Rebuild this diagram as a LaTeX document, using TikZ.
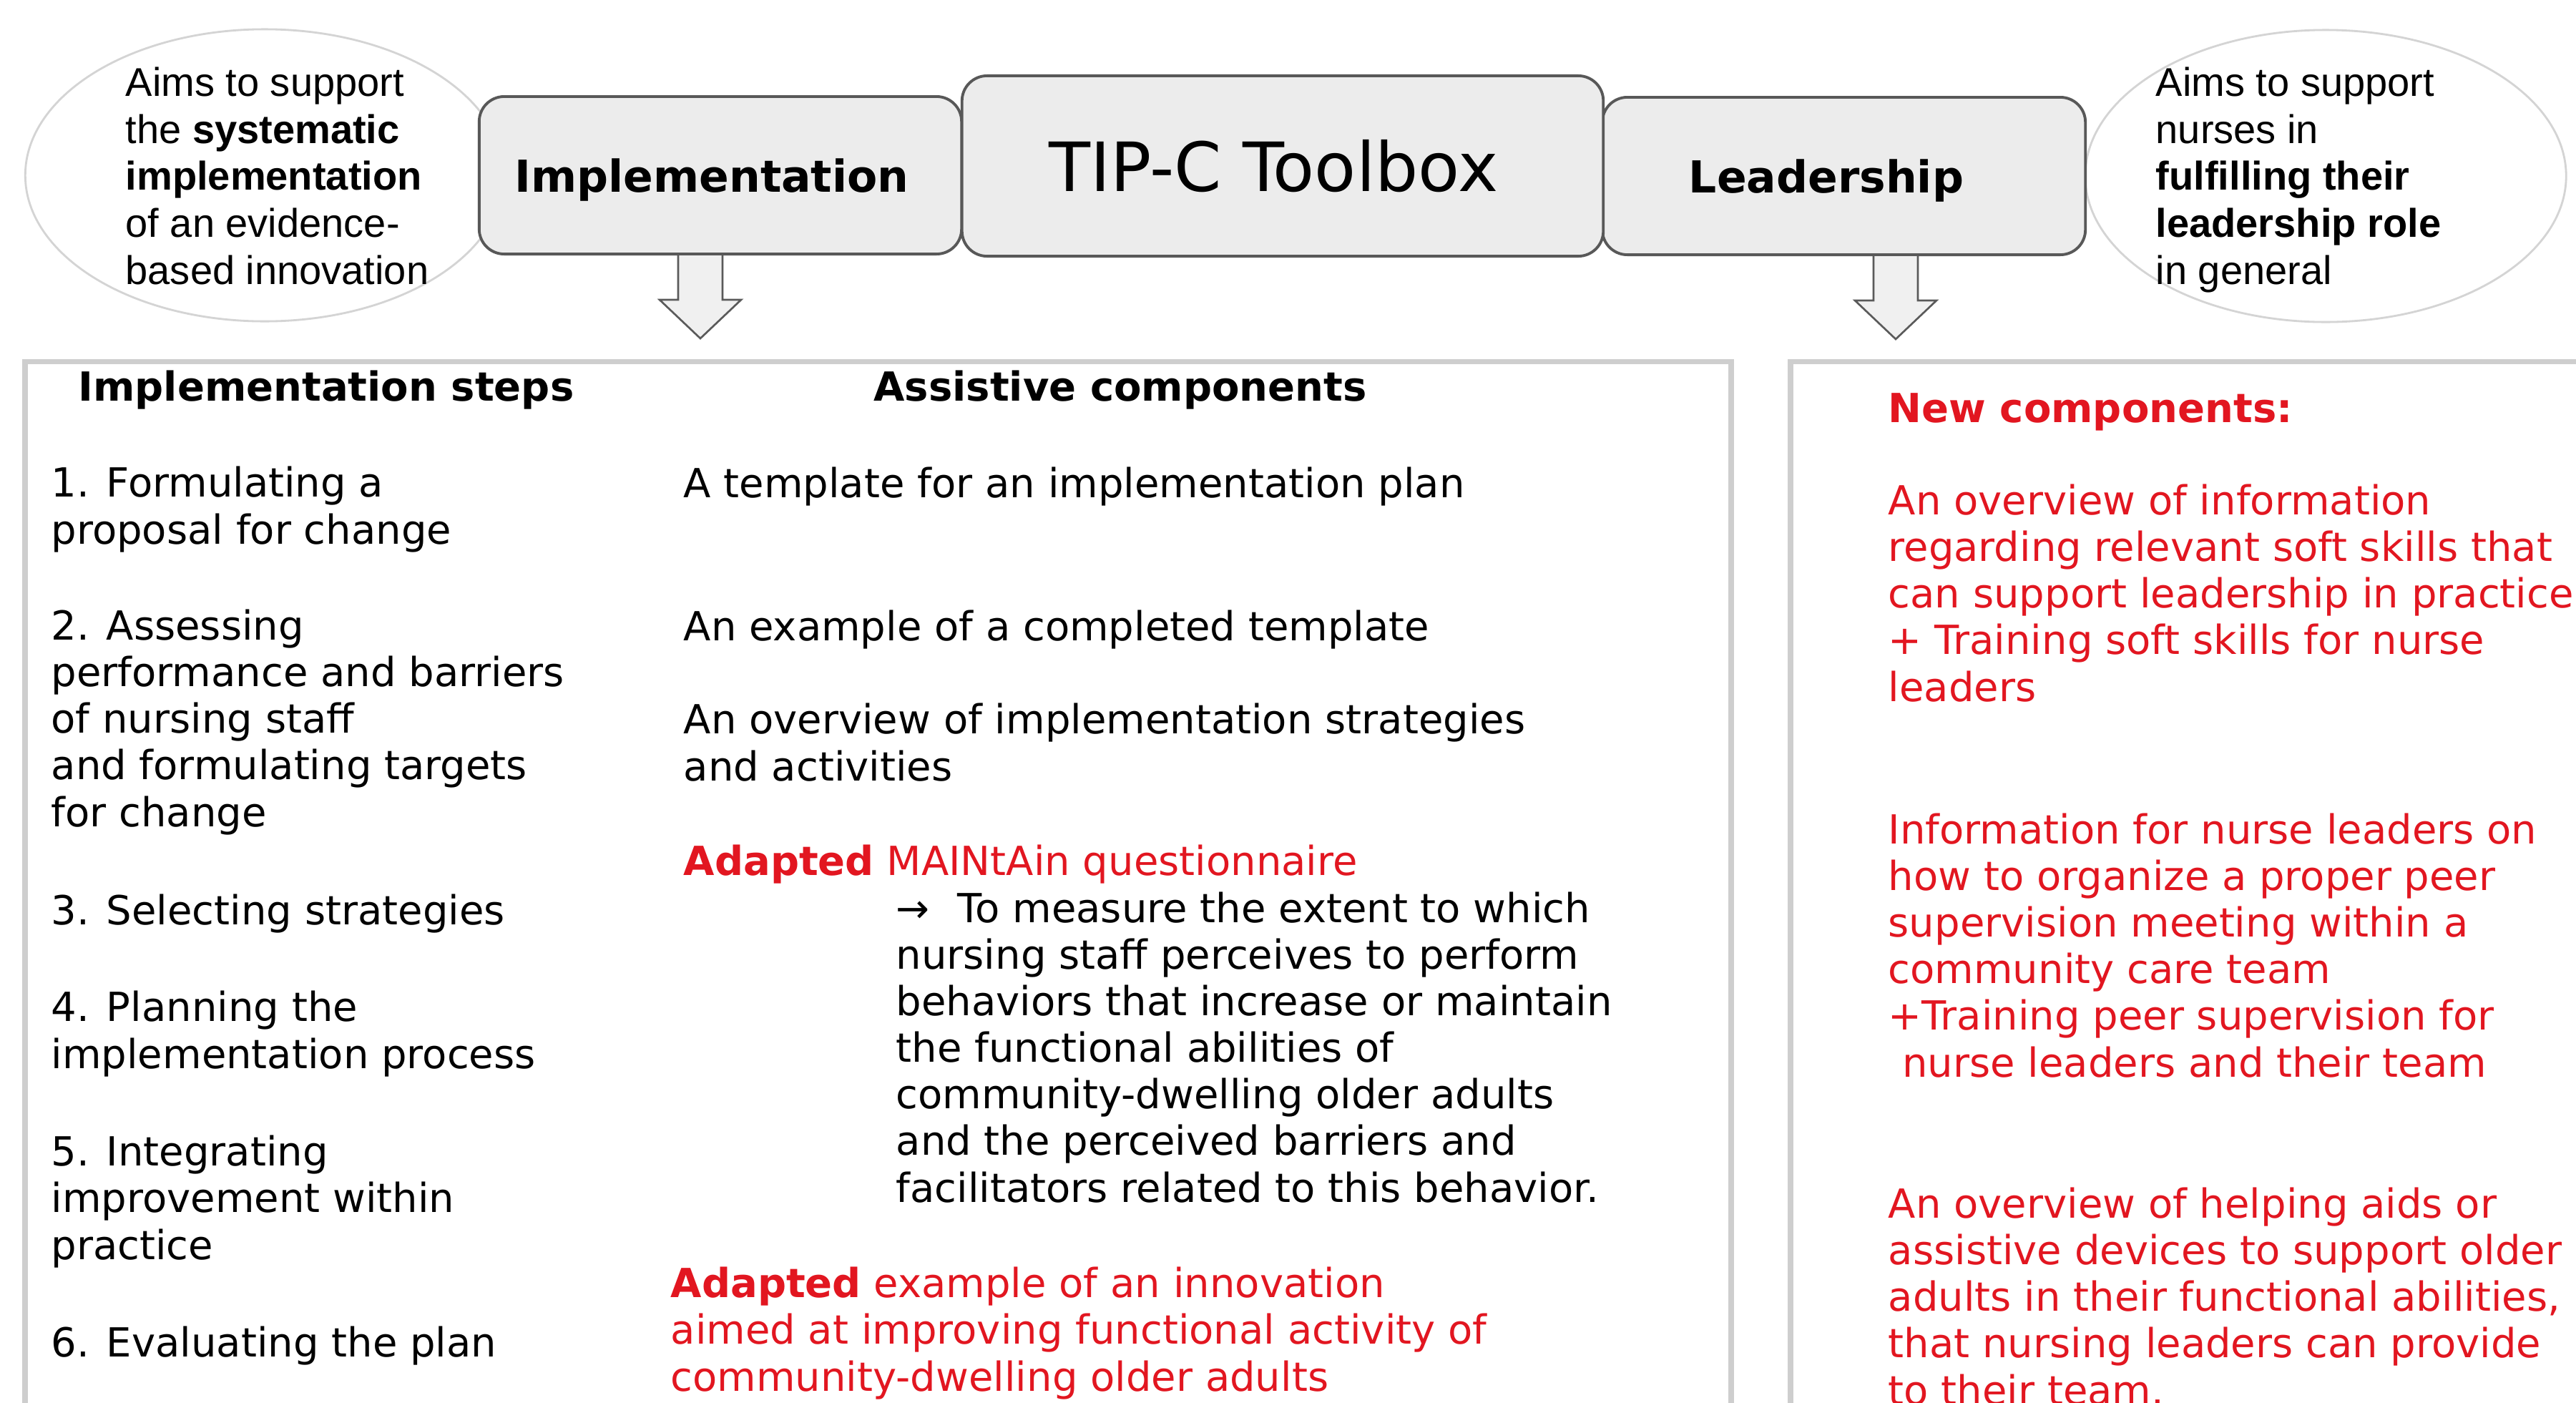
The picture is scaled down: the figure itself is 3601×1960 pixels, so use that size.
\documentclass[tikz,border=0pt]{standalone}
\usepackage{fontspec}
\setmainfont{DejaVu Sans}
\newfontfamily\arialf{Liberation Sans}
\usetikzlibrary{calc,shapes.geometric}
\definecolor{tred}{RGB}{226,22,32}
\definecolor{boxfill}{RGB}{236,236,236}
\definecolor{boxline}{RGB}{88,88,88}
\definecolor{panelline}{RGB}{206,206,206}
\definecolor{ellline}{RGB}{212,212,212}
\definecolor{arrline}{RGB}{90,90,90}
\definecolor{arrfill}{RGB}{240,240,240}
\begin{document}
\begin{tikzpicture}[x=0.01cm,y=-0.01cm,
  topbox/.style={draw=boxline, fill=boxfill, line width=1.1pt, rounded corners=0.35cm, inner sep=0pt},
  ellbox/.style={ellipse, draw=ellline, fill=white, line width=0.8pt, inner sep=0pt},
  panel/.style={draw=panelline, line width=2.2pt, fill=white, inner sep=0pt},
  barrow/.style={draw=arrline, fill=arrfill, line width=0.75pt, line join=miter},
  txt/.style={anchor=base west, align=left, inner sep=0pt, font=\fontsize{15.93}{18.5}\selectfont},
  redtxt/.style={txt, text=tred},
  hdr/.style={anchor=base, inner sep=0pt, font=\fontsize{15.93}{18.5}\selectfont\bfseries},
  elltxt/.style={anchor=base west, align=left, inner sep=0pt, font=\arialf\fontsize{15.93}{18.64}\selectfont},
  boxlabel/.style={anchor=base, inner sep=0pt, font=\fontsize{17.5}{20}\selectfont\bfseries}
]
\useasboundingbox (0,0) rectangle (3601,1960);
\fill[white] (0,0) rectangle (3601,1960);

% lower panels
\node[panel, minimum width=23.83cm, minimum height=15.94cm] (implpanel) at (1227.5,1303) {};
\node[panel, minimum width=11.97cm, minimum height=15.94cm] (leadpanel) at (3101.5,1303) {};

% ellipses
\node[ellbox, minimum width=6.69cm, minimum height=4.08cm] (ellL) at (370,245) {};
\node[ellbox, minimum width=6.72cm, minimum height=4.08cm] (ellR) at (3251,246) {};

% top boxes
\node[topbox, minimum width=6.74cm, minimum height=2.2cm] (impl) at (1007,245) {};
\node[topbox, minimum width=6.75cm, minimum height=2.2cm] (lead) at (2577.5,246) {};
\node[topbox, minimum width=8.96cm, minimum height=2.52cm] (tipc) at (1793,232) {};

\node[boxlabel] (impllabel) at (995,268) {Implementation};
\node[boxlabel] (leadlabel) at (2553,269) {Leadership};
\node[anchor=base, inner sep=0pt, font=\fontsize{27}{30}\selectfont] (tipclabel) at (1780,267) {TIP-C Toolbox};

% block arrows
\coordinate (a1) at ($(impl.south)+(-28,0)$);
\coordinate (a2) at ($(lead.south)+(72.5,0)$);
\foreach \a in {a1,a2}{
  \draw[barrow] ($(\a)+(-31,0)$) -- ($(\a)+(-31,62)$) -- ($(\a)+(-57,62)$) -- ($(\a)+(0,116)$)
    -- ($(\a)+(57,62)$) -- ($(\a)+(31,62)$) -- ($(\a)+(31,0)$);
}

% ellipse texts (anchored at the baseline of the last line)
\node[elltxt] (ellLtext) at (175,397) {Aims to support\\the \textbf{systematic}\\\textbf{implementation}\\of an evidence-\\based innovation};
\node[elltxt] (ellRtext) at (3013,397) {Aims to support\\nurses in\\\textbf{fulfilling their}\\\textbf{leadership role}\\in general};

% left column (anchored at the baseline of the last line)
\node[hdr] (h1) at (456,560) {Implementation steps};
\node[txt] (s1) at (71,760) {1. Formulating a\\proposal for change};
\node[txt] (s2) at (71,1155) {2. Assessing\\performance and barriers\\of nursing staff\\and formulating targets\\for change};
\node[txt] (s3) at (71,1292) {3. Selecting strategies};
\node[txt] (s4) at (71,1493) {4. Planning the\\implementation process};
\node[txt] (s5) at (71,1760) {5. Integrating\\improvement within\\practice};
\node[txt] (s6) at (71,1896) {6. Evaluating the plan};

% middle column
\node[hdr] (h2) at (1566,560) {Assistive components};
\node[txt] (c1) at (955,695) {A template for an implementation plan};
\node[txt] (c2) at (955,895) {An example of a completed template};
\node[txt] (c3) at (955,1091) {An overview of implementation strategies\\and activities};
\node[redtxt] (c4) at (955,1223) {\textbf{Adapted} MAINtAin questionnaire};
\node[txt] (c4b) at (1252,1680) {→\hspace{0.7em}To measure the extent to which\\nursing staff perceives to perform\\behaviors that increase or maintain\\the functional abilities of\\community-dwelling older adults\\and the perceived barriers and\\facilitators related to this behavior.};
\node[redtxt] (c5) at (937,1944) {\textbf{Adapted} example of an innovation\\aimed at improving functional activity of\\community-dwelling older adults};

% right column
\node[redtxt, font=\fontsize{15.93}{18.5}\selectfont\bfseries] (h3) at (2639,590) {New components:};
\node[redtxt] (n1) at (2639,980) {An overview of information\\regarding relevant soft skills that\\can support leadership in practice\\+ Training soft skills for nurse\\leaders};
\node[redtxt] (n2) at (2639,1505) {Information for nurse leaders on\\how to organize a proper peer\\supervision meeting within a\\community care team\\+Training peer supervision for\\\hspace*{0.35em}nurse leaders and their team};
\node[redtxt] (n3) at (2639,1963) {An overview of helping aids or\\assistive devices to support older\\adults in their functional abilities,\\that nursing leaders can provide\\to their team.};
\end{tikzpicture}
\end{document}
